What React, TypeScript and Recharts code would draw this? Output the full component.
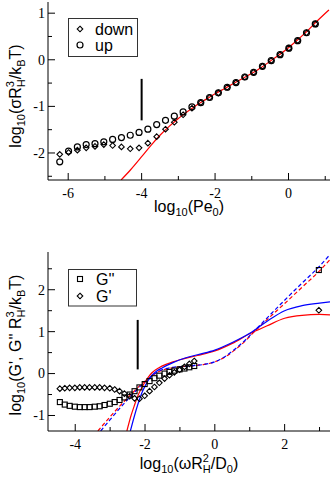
import React from 'react';
import { ComposedChart, Line, Scatter, XAxis, YAxis, Legend, Label } from 'recharts';

// ---------------- Top panel data ----------------
const peX = [-6.23, -5.99, -5.75, -5.51, -5.27, -5.03, -4.79, -4.55, -4.31, -4.07, -3.83, -3.59, -3.35, -3.11, -2.87, -2.63, -2.39, -2.15, -1.91, -1.67, -1.43, -1.19, -0.95, -0.71, -0.47, -0.23, 0.01, 0.25, 0.49, 0.73];
const upY = [-2.19, -1.96, -1.87, -1.82, -1.80, -1.76, -1.71, -1.67, -1.62, -1.56, -1.49, -1.39, -1.30, -1.21, -1.12, -1.01, -0.92, -0.81, -0.71, -0.59, -0.49, -0.37, -0.27, -0.14, -0.02, 0.11, 0.25, 0.41, 0.58, 0.77];
const downY = [-2.03, -1.99, -1.94, -1.89, -1.86, -1.82, -1.84, -1.87, -1.91, -1.89, -1.79, -1.65, -1.49, -1.34, -1.18, -1.04, -0.92, -0.81, -0.71, -0.59, -0.49, -0.37, -0.27, -0.14, -0.02, 0.11, 0.25, 0.41, 0.58, 0.77];
const fitTopX = [-4.56, -4.3, -4.0, -3.75, -3.5, -3.25, -3.0, -2.75, -2.5, -2.25, -2.0, -1.75, -1.5, -1.25, -1.0, -0.75, -0.5, -0.25, 0, 0.25, 0.5, 0.75, 1.1];
const fitTopY = [-2.58, -2.36, -2.08, -1.84, -1.62, -1.43, -1.26, -1.11, -0.97, -0.85, -0.73, -0.62, -0.51, -0.40, -0.29, -0.17, -0.03, 0.11, 0.26, 0.43, 0.61, 0.81, 1.07];
const topBarX = [-4.0, -4.0];
const topBarY = [-0.41, -1.30];
const topLegend = ['down', 'up'];
const topXDomain = [-6.55, 1.13];
const topYDomain = [-2.58, 1.24];
const topXTicks = [-6, -5, -4, -3, -2, -1, 0, 1];
const topXLabels = [-6, -4, -2, 0];
const topYTicks = [-2.5, -2, -1.5, -1, -0.5, 0, 0.5, 1];
const topYLabels = [-2, -1, 0, 1];

// ---------------- Bottom panel data ----------------
const omX = [-4.44, -4.30, -4.16, -4.01, -3.87, -3.73, -3.59, -3.44, -3.30, -3.16, -3.01, -2.87, -2.73, -2.59, -2.44, -2.30, -2.16, -2.01, -1.87, -1.73, -1.59, -1.44, -1.30, -1.16, -1.01, -0.87, -0.73, -0.59, 2.98];
const gppY = [-0.68, -0.74, -0.77, -0.79, -0.80, -0.80, -0.80, -0.79, -0.78, -0.75, -0.72, -0.68, -0.63, -0.57, -0.50, -0.42, -0.33, -0.25, -0.18, -0.11, -0.05, 0.00, 0.04, 0.07, 0.10, 0.12, 0.15, 0.18, 2.47];
const gpY = [-0.36, -0.35, -0.34, -0.34, -0.33, -0.33, -0.33, -0.33, -0.33, -0.34, -0.35, -0.38, -0.42, -0.48, -0.54, -0.59, -0.60, -0.53, -0.42, -0.32, -0.22, -0.12, -0.04, 0.03, 0.09, 0.16, 0.23, 0.30, 1.51];
const redSolidX = [-2.52, -2.4, -2.3, -2.2, -2.1, -2.0, -1.9, -1.8, -1.6, -1.4, -1.2, -1.0, -0.5, 0, 0.5, 1.0, 1.5, 2.0, 2.5, 3.0, 3.3];
const redSolidY = [-1.37, -1.0, -0.75, -0.52, -0.35, -0.20, -0.08, 0.02, 0.14, 0.22, 0.28, 0.33, 0.43, 0.54, 0.72, 0.95, 1.14, 1.32, 1.39, 1.41, 1.40];
const blueSolidX = [-2.42, -2.3, -2.2, -2.1, -2.0, -1.9, -1.8, -1.7, -1.5, -1.2, -1.0, -0.5, 0, 0.5, 1.0, 1.5, 2.0, 2.5, 3.0, 3.3];
const blueSolidY = [-1.37, -1.0, -0.72, -0.48, -0.30, -0.15, -0.04, 0.04, 0.14, 0.26, 0.33, 0.45, 0.56, 0.74, 0.96, 1.25, 1.50, 1.62, 1.68, 1.71];
const redDashX = [-3.35, -3.0, -2.5, -2.0, -1.6, -1.2, -0.9, -0.6, -0.3, 0, 0.3, 0.6, 0.9, 1.1, 1.5, 2.0, 2.5, 3.0, 3.3];
const redDashY = [-1.37, -1.03, -0.58, -0.18, 0.05, 0.14, 0.17, 0.19, 0.22, 0.28, 0.40, 0.58, 0.80, 0.97, 1.29, 1.67, 2.06, 2.45, 2.72];
const blueDashX = [-3.27, -3.0, -2.5, -2.0, -1.6, -1.2, -0.9, -0.6, -0.3, 0, 0.3, 0.6, 0.9, 1.1, 1.5, 2.0, 2.5, 3.0, 3.3];
const blueDashY = [-1.37, -1.10, -0.62, -0.20, 0.06, 0.15, 0.17, 0.19, 0.22, 0.28, 0.41, 0.60, 0.82, 0.99, 1.33, 1.75, 2.16, 2.56, 2.84];
const botBarX = [-2.21, -2.21];
const botBarY = [1.28, 0.10];
const botLegend = ["G''", "G'"];
const botXDomain = [-4.78, 3.3];
const botYDomain = [-1.37, 2.9];
const botXTicks = [-4, -3, -2, -1, 0, 1, 2, 3];
const botXLabels = [-4, -2, 0, 2];
const botYTicks = [-1, -0.5, 0, 0.5, 1, 1.5, 2, 2.5];
const botYLabels = [-1, 0, 1, 2];

const zip = (xs: number[], ys: number[]) => xs.map((x, i) => ({ x, y: ys[i] }));

const SERIF = '"Liberation Serif","Times New Roman",Times,serif';
const SANS = '"Liberation Sans",Arial,Helvetica,sans-serif';
const MAJOR = 7;
const MINOR = 4;

function tickFactory(side: string, labels: number[]) {
  return (props: any) => {
    const { x, y, payload } = props;
    const v = payload.value;
    const isMajor = labels.some((l) => Math.abs(l - v) < 1e-9);
    const len = isMajor ? MAJOR : MINOR;
    let x2 = x, y2 = y;
    if (side === 'bottom') y2 = y - len;
    if (side === 'top') y2 = y + len;
    if (side === 'left') x2 = x + len;
    if (side === 'right') x2 = x - len;
    let label = null;
    if (isMajor && side === 'bottom') {
      label = (
        <text x={x} y={y + 18} textAnchor="middle" fontFamily={SERIF} fontSize={14} fill="#000">
          {String(v)}
        </text>
      );
    }
    if (isMajor && side === 'left') {
      label = (
        <text x={x - 3} y={y} dy="0.35em" textAnchor="end" fontFamily={SERIF} fontSize={14} fill="#000">
          {String(v)}
        </text>
      );
    }
    return (
      <g>
        <line x1={x} y1={y} x2={x2} y2={y2} stroke="#000" strokeWidth={1} />
        {label}
      </g>
    );
  };
}

const circleShape = (p: any) => <circle cx={p.cx} cy={p.cy} r={3} fill="none" stroke="#000" strokeWidth={1.2} />;
const diamondShape = (p: any) => {
  const r = 2.8;
  return <path d={`M${p.cx},${p.cy - r}L${p.cx + r},${p.cy}L${p.cx},${p.cy + r}L${p.cx - r},${p.cy}Z`} fill="none" stroke="#000" strokeWidth={1.1} />;
};
const squareShape = (p: any) => {
  const h = 2.5;
  return <rect x={p.cx - h} y={p.cy - h} width={2 * h} height={2 * h} fill="none" stroke="#000" strokeWidth={1.1} />;
};

const SUB = 11;

const TopXTitle = () => (
  <text x={189} y={212} textAnchor="middle" fontFamily={SANS} fontSize={16} fill="#000">
    log<tspan fontSize={SUB} dy={4}>10</tspan>
    <tspan dy={-4}>(Pe</tspan>
    <tspan fontSize={SUB} dy={4}>0</tspan>
    <tspan dy={-4}>)</tspan>
  </text>
);

const TopYTitle = () => (
  <text transform="translate(21,96) rotate(-90)" textAnchor="middle" fontFamily={SANS} fontSize={16} fill="#000">
    log<tspan fontSize={SUB} dy={4}>10</tspan>
    <tspan dy={-4}>(σR</tspan>
    <tspan fontSize={SUB} dy={4}>H</tspan>
    <tspan fontSize={SUB} dx={-7.9} dy={-11}>3</tspan>
    <tspan dx={1.8} dy={7}>/k</tspan>
    <tspan fontSize={SUB} dy={4}>B</tspan>
    <tspan dy={-4}>T)</tspan>
  </text>
);

const BotXTitle = () => (
  <text x={189} y={229} textAnchor="middle" fontFamily={SANS} fontSize={16} fill="#000">
    log<tspan fontSize={SUB} dy={4}>10</tspan>
    <tspan dy={-4}>(ωR</tspan>
    <tspan fontSize={SUB} dy={4}>H</tspan>
    <tspan fontSize={SUB} dx={-7.9} dy={-11}>2</tspan>
    <tspan dx={1.8} dy={7}>/D</tspan>
    <tspan fontSize={SUB} dy={4}>0</tspan>
    <tspan dy={-4}>)</tspan>
  </text>
);

const BotYTitle = () => (
  <text transform="translate(21,105) rotate(-90)" textAnchor="middle" fontFamily={SANS} fontSize={16} fill="#000">
    log<tspan fontSize={SUB} dy={4}>10</tspan>
    <tspan dy={-4}>(G', G'' R</tspan>
    <tspan fontSize={SUB} dy={4}>H</tspan>
    <tspan fontSize={SUB} dx={-7.9} dy={-11}>3</tspan>
    <tspan dx={1.8} dy={7}>/k</tspan>
    <tspan fontSize={SUB} dy={4}>B</tspan>
    <tspan dy={-4}>T)</tspan>
  </text>
);

const diamondPath = (cx: number, cy: number, r: number) => `M${cx},${cy - r}L${cx + r},${cy}L${cx},${cy + r}L${cx - r},${cy}Z`;

const TopLegendBox = () => (
  <svg width={70} height={39} style={{ display: 'block' }}>
    <rect x={0.5} y={0.5} width={69} height={38} fill="#fff" stroke="#333" strokeWidth={1} />
    <path d={diamondPath(12, 11, 2.8)} fill="none" stroke="#000" strokeWidth={1.1} />
    <text x={27} y={16.5} fontFamily={SANS} fontSize={16} fill="#000">{topLegend[0]}</text>
    <circle cx={12} cy={27} r={3} fill="none" stroke="#000" strokeWidth={1.2} />
    <text x={27} y={32.5} fontFamily={SANS} fontSize={16} fill="#000">{topLegend[1]}</text>
  </svg>
);

const BotLegendBox = () => (
  <svg width={70} height={38} style={{ display: 'block' }}>
    <rect x={0.5} y={0.5} width={68} height={36.5} fill="#fff" stroke="#333" strokeWidth={1} />
    <rect x={9.5} y={7.5} width={5} height={5} fill="none" stroke="#000" strokeWidth={1.1} />
    <text x={28} y={15.5} fontFamily={SANS} fontSize={16} fill="#000">{botLegend[0]}</text>
    <path d={diamondPath(12, 27, 2.8)} fill="none" stroke="#000" strokeWidth={1.1} />
    <text x={28} y={32.5} fontFamily={SANS} fontSize={16} fill="#000">{botLegend[1]}</text>
  </svg>
);

export default function App() {
  const upData = zip(peX, upY);
  const downData = zip(peX, downY);
  const fitTop = zip(fitTopX, fitTopY);
  const topBar = zip(topBarX, topBarY);
  const gpp = zip(omX, gppY);
  const gp = zip(omX, gpY);
  const botBar = zip(botBarX, botBarY);

  return (
    <div style={{ position: 'absolute', left: 0, top: 0, width: 332, height: 477, background: '#fff' }}>
      <div style={{ position: 'absolute', left: 0, top: 0 }}>
        <ComposedChart width={332} height={240} margin={{ top: 2, right: 2, bottom: 0, left: 0 }}>
          <XAxis type="number" dataKey="x" domain={topXDomain} ticks={topXTicks} interval={0} allowDataOverflow
            height={60} tickSize={0} tickMargin={0} tickLine={false} axisLine={{ stroke: '#000' }} tick={tickFactory('bottom', topXLabels)}>
            <Label content={() => <TopXTitle />} />
          </XAxis>
          <XAxis xAxisId="t" orientation="top" type="number" dataKey="x" domain={topXDomain} ticks={topXTicks} interval={0} allowDataOverflow
            height={0} tickSize={0} tickMargin={0} tickLine={false} axisLine={{ stroke: '#000' }} tick={tickFactory('top', topXLabels)} />
          <YAxis type="number" dataKey="y" domain={topYDomain} ticks={topYTicks} interval={0} allowDataOverflow
            width={48} tickSize={0} tickMargin={0} tickLine={false} axisLine={{ stroke: '#000' }} tick={tickFactory('left', topYLabels)}>
            <Label content={() => <TopYTitle />} />
          </YAxis>
          <YAxis yAxisId="r" orientation="right" type="number" dataKey="y" domain={topYDomain} ticks={topYTicks} interval={0} allowDataOverflow
            width={0} tickSize={0} tickMargin={0} tickLine={false} axisLine={{ stroke: '#000' }} tick={tickFactory('right', topYLabels)} />
          <Scatter name={topLegend[0]} data={downData} dataKey="y" shape={diamondShape} isAnimationActive={false} />
          <Scatter name={topLegend[1]} data={upData} dataKey="y" shape={circleShape} isAnimationActive={false} />
          <Line data={fitTop} dataKey="y" type="monotone" stroke="#ff0000" strokeWidth={1.2} dot={false} isAnimationActive={false} legendType="none" />
          <Line data={topBar} dataKey="y" type="linear" stroke="#000" strokeWidth={2} dot={false} isAnimationActive={false} legendType="none" />
          <Legend verticalAlign="middle" align="center" layout="horizontal" content={() => <TopLegendBox />}
            wrapperStyle={{ position: 'absolute', left: 68, top: 18, width: 70, height: 39, margin: 0 }} />
        </ComposedChart>
      </div>
      <div style={{ position: 'absolute', left: 0, top: 240 }}>
        <ComposedChart width={332} height={237} margin={{ top: 12, right: 2, bottom: 0, left: 0 }}>
          <XAxis type="number" dataKey="x" domain={botXDomain} ticks={botXTicks} interval={0} allowDataOverflow
            height={46} tickSize={0} tickMargin={0} tickLine={false} axisLine={{ stroke: '#000' }} tick={tickFactory('bottom', botXLabels)}>
            <Label content={() => <BotXTitle />} />
          </XAxis>
          <XAxis xAxisId="t" orientation="top" type="number" dataKey="x" domain={botXDomain} ticks={botXTicks} interval={0} allowDataOverflow
            height={0} tickSize={0} tickMargin={0} tickLine={false} axisLine={{ stroke: '#000' }} tick={tickFactory('top', botXLabels)} />
          <YAxis type="number" dataKey="y" domain={botYDomain} ticks={botYTicks} interval={0} allowDataOverflow
            width={48} tickSize={0} tickMargin={0} tickLine={false} axisLine={{ stroke: '#000' }} tick={tickFactory('left', botYLabels)}>
            <Label content={() => <BotYTitle />} />
          </YAxis>
          <YAxis yAxisId="r" orientation="right" type="number" dataKey="y" domain={botYDomain} ticks={botYTicks} interval={0} allowDataOverflow
            width={0} tickSize={0} tickMargin={0} tickLine={false} axisLine={{ stroke: '#000' }} tick={tickFactory('right', botYLabels)} />
          <Scatter name={botLegend[0]} data={gpp} dataKey="y" shape={squareShape} isAnimationActive={false} />
          <Scatter name={botLegend[1]} data={gp} dataKey="y" shape={diamondShape} isAnimationActive={false} />
          <Line data={zip(redDashX, redDashY)} dataKey="y" type="monotone" stroke="#ff0000" strokeWidth={1.2} strokeDasharray="4 2.5" dot={false} isAnimationActive={false} legendType="none" />
          <Line data={zip(blueDashX, blueDashY)} dataKey="y" type="monotone" stroke="#0000ff" strokeWidth={1.2} strokeDasharray="4 2.5" dot={false} isAnimationActive={false} legendType="none" />
          <Line data={zip(redSolidX, redSolidY)} dataKey="y" type="monotone" stroke="#ff0000" strokeWidth={1.2} dot={false} isAnimationActive={false} legendType="none" />
          <Line data={zip(blueSolidX, blueSolidY)} dataKey="y" type="monotone" stroke="#0000ff" strokeWidth={1.2} dot={false} isAnimationActive={false} legendType="none" />
          <Line data={botBar} dataKey="y" type="linear" stroke="#000" strokeWidth={2} dot={false} isAnimationActive={false} legendType="none" />
          <Legend verticalAlign="middle" align="center" layout="horizontal" content={() => <BotLegendBox />}
            wrapperStyle={{ position: 'absolute', left: 68, top: 29, width: 70, height: 38, margin: 0 }} />
        </ComposedChart>
      </div>
    </div>
  );
}
